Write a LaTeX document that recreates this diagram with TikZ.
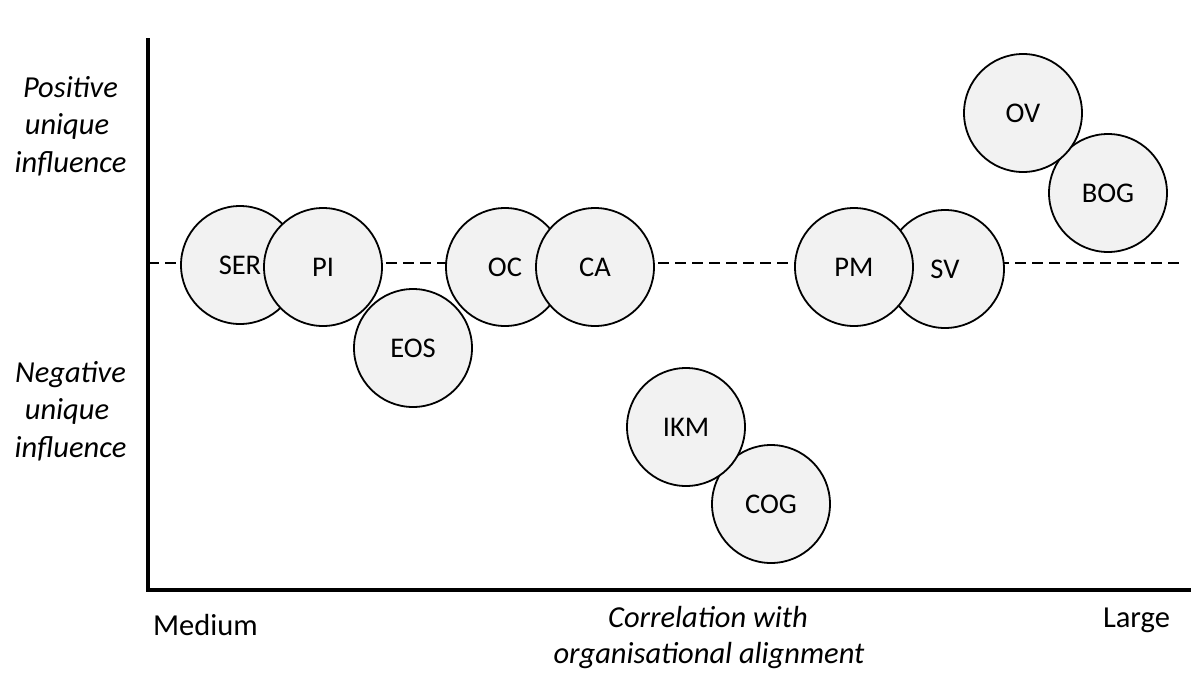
\documentclass[tikz,border=0pt]{standalone}
\usepackage{fontspec}
\setmainfont{Carlito}
\definecolor{bubblegray}{HTML}{F2F2F2}
\begin{document}
\begin{tikzpicture}[x=1pt,y=-1pt,
  bubble/.style={circle, draw=black, line width=1.8pt, fill=bubblegray,
    minimum size=118pt, inner sep=0pt, font=\fontsize{28.5}{34}\selectfont},
  sidelabel/.style={anchor=base, inner sep=0pt, font=\fontsize{30.5}{37}\selectfont\itshape},
  endlabel/.style={anchor=base, inner sep=0pt, font=\fontsize{30.5}{37}\selectfont},
  axisline/.style={line width=3.5pt},
  midline/.style={line width=1.3pt, dash pattern=on 11pt off 6pt}]
\useasboundingbox (0,0) rectangle (1191,675);

% axes
\coordinate (ytop) at (148,38);
\coordinate (origin) at (148,590);
\coordinate (xend) at (1191,590);
\draw[axisline] (ytop) -- (origin) -- (xend);

% zero line
\coordinate (zl) at (148,263);
\coordinate (zr) at (1183,263);
\draw[midline] (zl) -- (zr);

% bubbles
\node[bubble] (SER) at (240,265) {SER};
\node[bubble] (PI)  at (323,267) {PI};
\node[bubble] (EOS) at (413,348) {EOS};
\node[bubble] (OC)  at (505,267) {OC};
\node[bubble] (CA)  at (595,267) {CA};
\node[bubble] (SV)  at (945,269) {SV};
\node[bubble] (PM)  at (854,267) {PM};
\node[bubble] (BOG) at (1108,193) {BOG};
\node[bubble] (OV)  at (1023,113) {OV};
\node[bubble] (COG) at (771,504) {COG};
\node[bubble] (IKM) at (686,427) {IKM};

% vertical axis labels
\node[sidelabel] (posA) at (70.5,97) {Positive};
\node[sidelabel] (posB) at (67,134) {unique};
\node[sidelabel] (posC) at (70.5,172) {influence};
\node[sidelabel] (negA) at (70.5,382) {Negative};
\node[sidelabel] (negB) at (67,419.5) {unique};
\node[sidelabel] (negC) at (70.5,457) {influence};

% horizontal axis labels
\node[endlabel] (medium) at (205.5,635) {Medium};
\node[endlabel] (large) at (1136.5,627) {Large};
\node[sidelabel] (corrA) at (708,627) {Correlation with};
\node[sidelabel] (corrB) at (709,663) {organisational alignment};
\end{tikzpicture}
\end{document}
